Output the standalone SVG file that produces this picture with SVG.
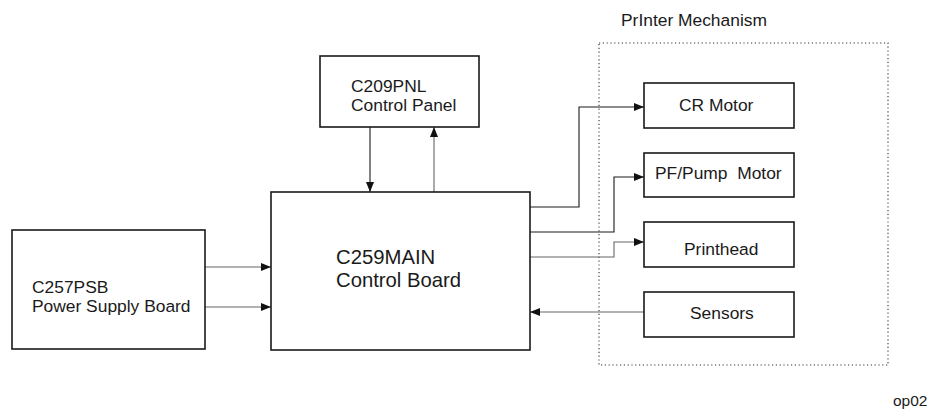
<svg xmlns="http://www.w3.org/2000/svg" width="929" height="410" viewBox="0 0 929 410">
<style>
.box{fill:#fff;stroke:#1a1a1a;stroke-width:1.6}
.t{font-family:"Liberation Sans",Arial,sans-serif;font-size:17.4px;fill:#1a1a1a}
.big{font-size:20.3px}
.c{fill:none;stroke:#1a1a1a;stroke-width:1.1}
.g{stroke:#666}
.dot{fill:none;stroke:#333;stroke-width:1.1;stroke-dasharray:1.2 2.6}
</style>
<defs>
<marker id="ah" viewBox="0 0 10 8" refX="10" refY="4" markerWidth="10" markerHeight="8" markerUnits="userSpaceOnUse" orient="auto">
<path d="M0,0 L10,4 L0,8 z" fill="#111"/>
</marker>
</defs>
<rect width="929" height="410" fill="#fff"/>
<g id="mechanism">
<rect class="dot" x="599" y="43" width="289" height="322"/>
<text class="t" x="621" y="26">PrInter Mechanism</text>
</g>
<g id="connectors">
<path class="c" d="M370,127 V192" marker-end="url(#ah)"/>
<path class="c g" d="M434,192 V127" marker-end="url(#ah)"/>
<path class="c g" d="M205,267 H271" marker-end="url(#ah)"/>
<path class="c g" d="M205,307 H271" marker-end="url(#ah)"/>
<path class="c" d="M530,207 H579 V107 H644" marker-end="url(#ah)"/>
<path class="c" d="M530,232 H614 V177 H644" marker-end="url(#ah)"/>
<path class="c g" d="M530,257 H614 V242 H644" marker-end="url(#ah)"/>
<path class="c g" d="M644,312 H530" marker-end="url(#ah)"/>
</g>
<g id="panel">
<rect class="box" x="320" y="56" width="159" height="71"/>
<text class="t" x="351" y="92">C209PNL</text>
<text class="t" x="351" y="111">Control Panel</text>
</g>
<g id="main">
<rect class="box" x="271" y="192" width="259" height="158"/>
<text class="t big" x="336" y="264">C259MAIN</text>
<text class="t big" x="336" y="287">Control Board</text>
</g>
<g id="psb">
<rect class="box" x="12" y="230" width="193" height="119"/>
<text class="t" x="32" y="293">C257PSB</text>
<text class="t" x="32" y="312">Power Supply Board</text>
</g>
<g id="cr">
<rect class="box" x="644" y="83" width="150" height="45"/>
<text class="t" x="679" y="111">CR Motor</text>
</g>
<g id="pf">
<rect class="box" x="644" y="153" width="150" height="44"/>
<text class="t" x="655" y="179" xml:space="preserve">PF/Pump  Motor</text>
</g>
<g id="printhead">
<rect class="box" x="644" y="222" width="150" height="45"/>
<text class="t" x="684" y="255">Printhead</text>
</g>
<g id="sensors">
<rect class="box" x="644" y="292" width="150" height="45"/>
<text class="t" x="690" y="319">Sensors</text>
</g>
<text class="t" x="893" y="406" style="font-size:15.5px">op02</text>
</svg>
